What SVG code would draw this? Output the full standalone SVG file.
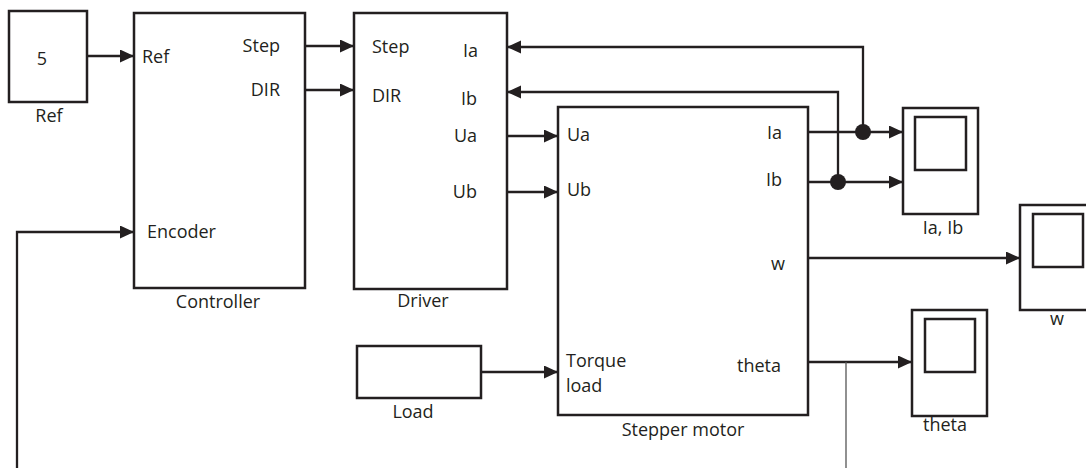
<svg xmlns="http://www.w3.org/2000/svg" width="1086" height="468" viewBox="0 0 1086 468">
<style>
.box{fill:#fff;stroke:#231f20;stroke-width:2.5}
.in{fill:none;stroke:#231f20;stroke-width:2.5}
.ln{fill:none;stroke:#231f20;stroke-width:2.3}
.thin{fill:none;stroke:#555;stroke-width:1.3}
text{font-family:"Open Sans","DejaVu Sans",sans-serif;font-size:18px;fill:#231f20}
.e{text-anchor:end}.m{text-anchor:middle}
</style>
<defs>
<marker id="ah" markerUnits="userSpaceOnUse" markerWidth="15" markerHeight="14" refX="14" refY="6.5" orient="auto">
<path d="M0,0 L14,6.5 L0,13 z" fill="#231f20"/>
</marker>
</defs>
<rect width="1086" height="468" fill="#fff"/>
<g id="connectors">
<path class="ln" d="M87,56 H134" marker-end="url(#ah)"/>
<path class="ln" d="M305,46 H354" marker-end="url(#ah)"/>
<path class="ln" d="M305,90 H354" marker-end="url(#ah)"/>
<path class="ln" stroke-width="2" d="M17,468 V232 H134" marker-end="url(#ah)"/>
<path class="ln" d="M808,132 H903" marker-end="url(#ah)"/>
<path class="ln" d="M863,132 V47 H507" marker-end="url(#ah)"/>
<path class="ln" d="M808,182 H903" marker-end="url(#ah)"/>
<path class="ln" d="M838,182 V92 H507" marker-end="url(#ah)"/>
<path class="ln" d="M507,136 H558" marker-end="url(#ah)"/>
<path class="ln" d="M506,192 H558" marker-end="url(#ah)"/>
<path class="ln" d="M808,258 H1020" marker-end="url(#ah)"/>
<path class="ln" d="M808,362 H912" marker-end="url(#ah)"/>
<path class="thin" d="M846,362 V468"/>
<path class="ln" d="M481,372 H558" marker-end="url(#ah)"/>
<circle cx="863" cy="132" r="8" fill="#231f20"/>
<circle cx="838" cy="182" r="8" fill="#231f20"/>
</g>
<g id="ref">
<rect class="box" x="9" y="11" width="78" height="91"/>
<text class="m" x="42" y="65">5</text>
<text class="m" x="49" y="122">Ref</text>
</g>
<g id="controller">
<rect class="box" x="134" y="13" width="171" height="275"/>
<text x="142" y="63">Ref</text>
<text class="e" x="280" y="52">Step</text>
<text class="e" x="280" y="96">DIR</text>
<text x="147" y="238">Encoder</text>
<text class="m" x="218" y="308">Controller</text>
</g>
<g id="driver">
<rect class="box" x="354" y="13" width="153" height="276"/>
<text x="372" y="53">Step</text>
<text x="372" y="102">DIR</text>
<text class="e" x="478" y="57">Ia</text>
<text class="e" x="477" y="105">Ib</text>
<text class="e" x="477" y="142">Ua</text>
<text class="e" x="477" y="198">Ub</text>
<text class="m" x="423" y="307">Driver</text>
</g>
<g id="motor">
<rect class="box" x="558" y="107" width="250" height="308"/>
<text x="567" y="141">Ua</text>
<text x="567" y="196">Ub</text>
<text class="e" x="782" y="139">Ia</text>
<text class="e" x="782" y="186">Ib</text>
<text class="e" x="785" y="270">w</text>
<text x="566" y="367">Torque</text>
<text x="566" y="392">load</text>
<text x="737" y="372">theta</text>
<text class="m" x="683" y="436">Stepper motor</text>
</g>
<g id="load">
<rect class="box" x="357" y="346" width="124" height="52"/>
<text class="m" x="413" y="418">Load</text>
</g>
<g id="scope-iab">
<rect class="box" x="903" y="108" width="75" height="106"/>
<rect class="in" x="915" y="117" width="51" height="53"/>
<text class="m" x="943" y="234">Ia, Ib</text>
</g>
<g id="scope-w">
<rect class="box" x="1020" y="205" width="75" height="105"/>
<rect class="in" x="1033" y="214" width="50" height="53"/>
<text class="m" x="1057" y="325">w</text>
</g>
<g id="scope-theta">
<rect class="box" x="912" y="310" width="75" height="106"/>
<rect class="in" x="925" y="319" width="50" height="53"/>
<text class="m" x="945" y="431">theta</text>
</g>
</svg>
